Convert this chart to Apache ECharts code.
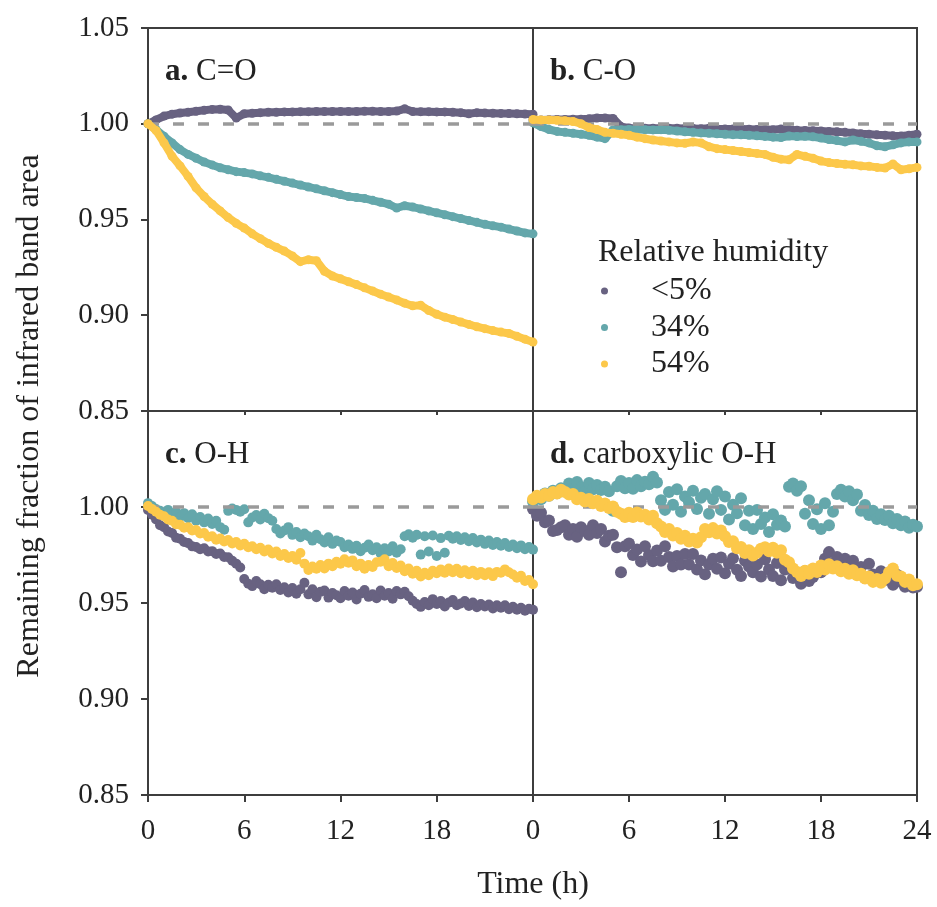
<!DOCTYPE html>
<html>
<head>
<meta charset="utf-8">
<title>Remaining fraction of infrared band area</title>
<script src="https://cdn.jsdelivr.net/npm/echarts@6/dist/echarts.min.js"></script>
<style>
  html, body { margin: 0; padding: 0; background: #fff; }
  #main { width: 937px; height: 907px; }
</style>
</head>
<body>
<div id="main"></div>
<script>
// sampling times (h): half-hourly for the smooth panels, quarter-hourly for the noisy ones
var hours = [0, 0.5, 1, 1.5, 2, 2.5, 3, 3.5, 4, 4.5, 5, 5.5, 6, 6.5, 7, 7.5, 8, 8.5, 9, 9.5,
  10, 10.5, 11, 11.5, 12, 12.5, 13, 13.5, 14, 14.5, 15, 15.5, 16, 16.5, 17, 17.5, 18, 18.5, 19, 19.5,
  20, 20.5, 21, 21.5, 22, 22.5, 23, 23.5, 24];
var hoursFine = [0, 0.25, 0.5, 0.75, 1, 1.25, 1.5, 1.75,
  2, 2.25, 2.5, 2.75, 3, 3.25, 3.5, 3.75,
  4, 4.25, 4.5, 4.75, 5, 5.25, 5.5, 5.75,
  6, 6.25, 6.5, 6.75, 7, 7.25, 7.5, 7.75,
  8, 8.25, 8.5, 8.75, 9, 9.25, 9.5, 9.75,
  10, 10.25, 10.5, 10.75, 11, 11.25, 11.5, 11.75,
  12, 12.25, 12.5, 12.75, 13, 13.25, 13.5, 13.75,
  14, 14.25, 14.5, 14.75, 15, 15.25, 15.5, 15.75,
  16, 16.25, 16.5, 16.75, 17, 17.25, 17.5, 17.75,
  18, 18.25, 18.5, 18.75, 19, 19.25, 19.5, 19.75,
  20, 20.25, 20.5, 20.75, 21, 21.25, 21.5, 21.75,
  22, 22.25, 22.5, 22.75, 23, 23.25, 23.5, 23.75,
  24];

var humidity = ['<5%', '34%', '54%'];
var colors = ['#686281', '#64a7ab', '#fcc84a'];
var panelLabels = [['a.', 'C=O'], ['b.', 'C-O'], ['c.', 'O-H'], ['d.', 'carboxylic O-H']];
var yTicks = [0.85, 0.90, 0.95, 1.00, 1.05];
var xTicks = [0, 6, 12, 18, 24];

// a. C=O
var aDry = [1.000, 1.002, 1.004, 1.005, 1.0056, 1.006, 1.0065, 1.007, 1.0075, 1.0076,
  1.0072, 1.003, 1.0052, 1.0055, 1.0058, 1.006, 1.006, 1.0062, 1.0062, 1.0063,
  1.0063, 1.0064, 1.0064, 1.0064, 1.0064, 1.0064, 1.0064, 1.0065, 1.0065, 1.0064,
  1.0064, 1.0066, 1.0078, 1.0064, 1.0063, 1.0063, 1.0062, 1.0062, 1.006, 1.0058,
  1.0052, 1.0058, 1.0056, 1.0055, 1.0054, 1.0053, 1.0052, 1.0051, 1.005];
var a34 = [1.000, 0.997, 0.9935, 0.990, 0.9865, 0.984, 0.982, 0.980, 0.9785, 0.977,
  0.976, 0.975, 0.9745, 0.9738, 0.9728, 0.972, 0.971, 0.970, 0.969, 0.968,
  0.967, 0.966, 0.965, 0.964, 0.963, 0.962, 0.9615, 0.961, 0.960, 0.959,
  0.958, 0.956, 0.9572, 0.9565, 0.9555, 0.9545, 0.9535, 0.9525, 0.9515, 0.9505,
  0.9495, 0.9485, 0.9475, 0.9467, 0.946, 0.945, 0.944, 0.943, 0.9425];
var a54 = [1.000, 0.9965, 0.990, 0.983, 0.978, 0.9725, 0.9665, 0.962, 0.958, 0.9545,
  0.951, 0.948, 0.9455, 0.9425, 0.940, 0.9375, 0.9355, 0.9335, 0.931, 0.928,
  0.929, 0.9285, 0.923, 0.9205, 0.919, 0.9175, 0.916, 0.9143, 0.9127, 0.911,
  0.9095, 0.908, 0.9063, 0.9049, 0.9052, 0.9025, 0.9005, 0.899, 0.8978, 0.8965,
  0.8952, 0.894, 0.893, 0.892, 0.8912, 0.8905, 0.889, 0.8875, 0.886];

// b. C-O
var bDry = [1.002, 1.002, 1.0021, 1.0022, 1.0022, 1.0023, 1.0024, 1.0026, 1.003, 1.003,
  1.0028, 0.9985, 0.9978, 0.9977, 0.9977, 0.9976, 0.9976, 0.9977, 0.9976, 0.9975,
  0.9975, 0.9974, 0.9976, 0.9974, 0.9973, 0.9972, 0.9972, 0.9971, 0.997, 0.997,
  0.9969, 0.9972, 0.9969, 0.9966, 0.9965, 0.9964, 0.9962, 0.996, 0.9958, 0.9955,
  0.9952, 0.9948, 0.9945, 0.9942, 0.994, 0.9937, 0.9936, 0.994, 0.9945];
var b34 = [1.0005, 0.9985, 0.997, 0.996, 0.9955, 0.995, 0.9945, 0.994, 0.993, 0.9922,
  0.9968, 0.9969, 0.997, 0.997, 0.9969, 0.9968, 0.9969, 0.9966, 0.9962, 0.9958,
  0.9955, 0.9952, 0.995, 0.9948, 0.9945, 0.9943, 0.9942, 0.994, 0.9937, 0.9934,
  0.993, 0.9928, 0.9936, 0.9933, 0.9935, 0.9932, 0.9925, 0.9918, 0.9912, 0.9905,
  0.9915, 0.9908, 0.99, 0.9885, 0.988, 0.989, 0.99, 0.9905, 0.9905];
var b54 = [1.0022, 1.002, 1.002, 1.0018, 1.0016, 1.0012, 1.0, 0.998, 0.997, 0.9955,
  0.995, 0.9945, 0.994, 0.993, 0.9922, 0.9915, 0.991, 0.9905, 0.99, 0.9898,
  0.9905, 0.99, 0.988, 0.987, 0.9865, 0.986, 0.9855, 0.985, 0.9845, 0.984,
  0.9825, 0.9815, 0.9812, 0.984, 0.983, 0.982, 0.9805, 0.9797, 0.9792, 0.9788,
  0.9786, 0.978, 0.9778, 0.9772, 0.9769, 0.979, 0.976, 0.9765, 0.9772];

// c. O-H (quarter-hourly)
var cDry = [0.9985, 0.996, 0.9935, 0.9905, 0.9895, 0.9872, 0.9865, 0.984,
  0.9835, 0.9818, 0.9812, 0.9795, 0.9792, 0.978, 0.9785, 0.9768,
  0.977, 0.9755, 0.9758, 0.974, 0.9738, 0.972, 0.9705, 0.9685,
  0.9625, 0.960, 0.9588, 0.9615, 0.9598, 0.9572, 0.9595, 0.958,
  0.9598, 0.9568, 0.9582, 0.9555, 0.9578, 0.9548, 0.9572, 0.9605,
  0.9545, 0.9572, 0.953, 0.9558, 0.9565, 0.9528, 0.9552, 0.954,
  0.9525, 0.9562, 0.9538, 0.9555, 0.9518, 0.9548, 0.9568, 0.9532,
  0.9545, 0.9525, 0.9565, 0.9538, 0.9552, 0.9522, 0.9562, 0.9545,
  0.9558, 0.9535, 0.9512, 0.9495, 0.948, 0.9505, 0.9488, 0.952,
  0.9495, 0.951, 0.9482, 0.9502, 0.9515, 0.9488, 0.9498, 0.951,
  0.9485, 0.9502, 0.9478, 0.9495, 0.9482, 0.9492, 0.9472, 0.9488,
  0.9475, 0.9488, 0.9468, 0.948, 0.9465, 0.9475, 0.946, 0.947,
  0.9465];
var c34 = [1.002, 1.0005, 0.999, 0.998, 0.9972, 0.9985, 0.9958, 0.9975,
  0.9948, 0.9968, 0.9942, 0.9962, 0.9928, 0.9948, 0.992, 0.994,
  0.9912, 0.9928, 0.9895, 0.9882, 0.998, 0.9992, 0.9985, 0.9975,
  0.9988, 0.992, 0.9945, 0.9958, 0.9935, 0.9965, 0.9942, 0.9928,
  0.9885, 0.9862, 0.9878, 0.9895, 0.9855, 0.987, 0.9842, 0.9862,
  0.9848, 0.9825, 0.9855, 0.9832, 0.9815, 0.9842, 0.9808, 0.9825,
  0.9818, 0.979, 0.9805, 0.9782, 0.9798, 0.977, 0.9788, 0.9805,
  0.9775, 0.979, 0.9758, 0.9785, 0.9768, 0.9795, 0.9762, 0.978,
  0.9848, 0.9858, 0.984, 0.9855, 0.9752, 0.9848, 0.9768, 0.9852,
  0.9745, 0.9838, 0.9762, 0.985, 0.9835, 0.9848, 0.9828, 0.9842,
  0.9822, 0.9838, 0.9815, 0.983, 0.9808, 0.9825, 0.9802, 0.9818,
  0.9798, 0.9812, 0.9792, 0.9805, 0.9785, 0.980, 0.978, 0.9792,
  0.9778];
var c54 = [1.0005, 0.999, 0.9975, 0.996, 0.9952, 0.9935, 0.9928, 0.991,
  0.9908, 0.9892, 0.9895, 0.9878, 0.988, 0.9862, 0.9865, 0.9845,
  0.9848, 0.983, 0.9836, 0.982, 0.9828, 0.981, 0.9818, 0.980,
  0.9808, 0.979, 0.9795, 0.978, 0.9788, 0.9768, 0.9778, 0.9758,
  0.9768, 0.9745, 0.9755, 0.9735, 0.9745, 0.9725, 0.976, 0.9705,
  0.9672, 0.969, 0.9678, 0.9698, 0.968, 0.9705, 0.9692, 0.9715,
  0.9705, 0.9728, 0.971, 0.9722, 0.9692, 0.9705, 0.9678, 0.9698,
  0.9688, 0.9712, 0.9715, 0.9728, 0.9692, 0.9708, 0.9682, 0.9695,
  0.9665, 0.968, 0.9652, 0.9668, 0.9638, 0.9658, 0.9645, 0.9668,
  0.9655, 0.9675, 0.9658, 0.968, 0.966, 0.9678, 0.9655, 0.967,
  0.965, 0.9668, 0.9645, 0.9662, 0.9645, 0.966, 0.964, 0.9662,
  0.9658, 0.9675, 0.966, 0.9648, 0.9632, 0.9642, 0.9615, 0.962,
  0.9598];

// d. carboxylic O-H (quarter-hourly)
var dDry = [0.999, 0.9955, 0.997, 0.992, 0.993, 0.9875, 0.988, 0.9895,
  0.9905, 0.9855, 0.9885, 0.9845, 0.9895, 0.9875, 0.9855, 0.9905,
  0.9865, 0.9885, 0.982, 0.985, 0.9855, 0.979, 0.966, 0.9795,
  0.981, 0.975, 0.9778, 0.9716, 0.9795, 0.975, 0.9717, 0.9773,
  0.972, 0.9795, 0.974, 0.969, 0.9745, 0.970, 0.9755, 0.970,
  0.9755, 0.9674, 0.9722, 0.965, 0.970, 0.973, 0.9678, 0.9737,
  0.9655, 0.9705, 0.9733, 0.9673, 0.964, 0.972, 0.969, 0.966,
  0.970, 0.9638, 0.9728, 0.9675, 0.964, 0.9708, 0.9618, 0.9675,
  0.9695, 0.963, 0.9655, 0.960, 0.9665, 0.9615, 0.9635, 0.966,
  0.966, 0.973, 0.9765, 0.9705, 0.974, 0.967, 0.973, 0.9685,
  0.972, 0.9653, 0.9687, 0.963, 0.9705, 0.9648, 0.9622, 0.9666,
  0.962, 0.9652, 0.9595, 0.9647, 0.961, 0.9584, 0.9607, 0.9581,
  0.9585];
var d34 = [1.003, 1.0055, 1.004, 1.007, 1.0058, 1.0085, 1.0072, 1.0098,
  1.0088, 1.0122, 1.0095, 1.013, 1.0102, 1.0078, 1.0125, 1.0092,
  1.0115, 1.0088, 1.0105, 1.0082, 0.998, 1.0108, 1.0135, 1.0098,
  1.0125, 1.0095, 1.014, 1.0108, 1.0132, 1.0118, 1.0158, 1.0128,
  1.0035, 0.9985, 1.0078, 1.0012, 1.0092, 0.9975, 1.0055, 1.0025,
  1.0085, 0.999, 1.0048, 1.0068, 0.9965, 1.004, 1.0082, 0.9985,
  1.0055, 0.9935, 1.0012, 0.9968, 1.0045, 0.9905, 0.998, 0.9885,
  0.9985, 0.9912, 0.9945, 0.987, 0.9962, 0.9908, 0.993, 0.9898,
  1.0105, 1.0122, 1.0085, 1.0108, 0.9965, 1.0035, 0.9912, 0.9988,
  0.9885, 1.002, 0.9905, 0.9975, 1.0068, 1.009, 1.0055, 1.0082,
  1.0035, 1.0065, 0.998, 1.001, 0.9958, 0.998, 0.9938, 0.9962,
  0.9932, 0.9955, 0.9915, 0.9938, 0.9905, 0.9925, 0.9892, 0.9908,
  0.9898];
var d54 = [1.004, 1.0058, 1.005, 1.0068, 1.0058, 1.0078, 1.007, 1.009,
  1.0078, 1.0065, 1.0068, 1.004, 1.0048, 1.0028, 1.0042, 1.002,
  1.0032, 1.0005, 1.0018, 0.9995, 1.0002, 0.9975, 0.9965, 0.9948,
  0.997, 0.9948, 0.9972, 0.995, 0.996, 0.9935, 0.9955, 0.9915,
  0.9898, 0.987, 0.9885, 0.9852, 0.9865, 0.9835, 0.985, 0.982,
  0.9835, 0.9815, 0.9842, 0.9885, 0.9868, 0.989, 0.9862, 0.9878,
  0.9848, 0.9818, 0.9822, 0.9785, 0.9792, 0.976, 0.9775, 0.9748,
  0.9762, 0.9782, 0.979, 0.977, 0.9788, 0.9762, 0.9775, 0.9725,
  0.9712, 0.968, 0.9662, 0.964, 0.9668, 0.9652, 0.968, 0.9662,
  0.9695, 0.9675, 0.9702, 0.968, 0.9692, 0.9665, 0.9678, 0.9652,
  0.967, 0.9645, 0.9652, 0.9628, 0.9638, 0.961, 0.9625, 0.9605,
  0.9628, 0.966, 0.968, 0.9642, 0.9638, 0.961, 0.9622, 0.9592,
  0.9598];

var panels = [[aDry, a34, a54], [bDry, b34, b54], [cDry, c34, c54], [dDry, d34, d54]];
var panelHours = [hours, hours, hoursFine, hoursFine];
var dotSizes = [9, 9, 10, 12];

var font = '"Liberation Serif", "DejaVu Serif", serif';
var ink = '#222';
var frame = '#3d3d3d';

var grids = [
  { left: 148, top: 28, width: 385, height: 383 },
  { left: 533, top: 28, width: 384, height: 383 },
  { left: 148, top: 411, width: 385, height: 384 },
  { left: 533, top: 411, width: 384, height: 384 }
];

var xAxes = [], yAxes = [], series = [], titles = [];

grids.forEach(function (g, p) {
  g.show = true;
  g.borderColor = frame;
  g.borderWidth = 2;
  var bottomRow = p >= 2;
  var leftCol = p % 2 === 0;

  xAxes.push({
    gridIndex: p, type: 'value', min: xTicks[0], max: xTicks[xTicks.length - 1], interval: 6,
    axisLine: { show: true, lineStyle: { color: frame, width: 2 } },
    axisTick: { show: true, length: bottomRow ? 7 : 4, lineStyle: { color: frame, width: 2 } },
    axisLabel: {
      show: bottomRow, margin: 22, color: ink, fontFamily: font, fontSize: 29,
      showMaxLabel: p === 3
    },
    splitLine: { show: false }
  });

  yAxes.push({
    gridIndex: p, type: 'value', min: yTicks[0], max: yTicks[yTicks.length - 1], interval: 0.05,
    axisLine: { show: true, lineStyle: { color: frame, width: 2 } },
    axisTick: { show: leftCol, length: 7, lineStyle: { color: frame, width: 2 } },
    axisLabel: {
      show: leftCol, margin: 19, color: ink, fontFamily: font, fontSize: 29,
      showMaxLabel: p === 0,
      formatter: function (v) { return v.toFixed(2); }
    },
    splitLine: { show: false }
  });

  titles.push({
    text: '{b|' + panelLabels[p][0] + '} ' + panelLabels[p][1],
    left: g.left + 17, top: g.top + 28, padding: 0,
    textStyle: {
      fontFamily: font, fontSize: 31, fontWeight: 'normal', color: ink,
      rich: { b: { fontFamily: font, fontSize: 31, fontWeight: 'bold', color: ink } }
    }
  });

  panels[p].forEach(function (vals, h) {
    var s = {
      name: humidity[h],
      type: bottomRow ? 'scatter' : 'line',
      xAxisIndex: p, yAxisIndex: p,
      data: panelHours[p].map(function (t, i) { return [t, vals[i]]; }),
      symbol: 'circle',
      symbolSize: dotSizes[p],
      showSymbol: true,
      itemStyle: { color: colors[h], opacity: 1 },
      lineStyle: { color: colors[h], width: 8 },
      animation: false,
      z: 3 + h
    };
    if (h === 0) {
      // dashed reference line at 1.00
      s.markLine = {
        silent: true, symbol: 'none', label: { show: false },
        lineStyle: { color: '#9a9a9a', type: [11, 14], width: 3.5 },
        data: [{ yAxis: 1 }]
      };
    }
    series.push(s);
  });
});

var myChart = echarts.init(document.getElementById('main'));
var option = {
  backgroundColor: '#fff',
  animation: false,
  title: titles,
  grid: grids,
  xAxis: xAxes,
  yAxis: yAxes,
  legend: {
    data: humidity,
    orient: 'vertical',
    left: 601, top: 275, padding: 0,
    icon: 'circle',
    itemWidth: 7, itemHeight: 7, itemGap: 4.5,
    formatter: function (name) { return '{p| }{t|' + name + '}'; },
    textStyle: {
      color: ink, fontFamily: font, fontSize: 32,
      rich: {
        p: { width: 38 },
        t: { fontFamily: font, fontSize: 32, color: ink, lineHeight: 32 }
      }
    }
  },
  graphic: [
    {
      type: 'text', x: 598, y: 253,
      style: {
        text: 'Relative humidity', font: '32px ' + font, fill: ink,
        textAlign: 'left', textVerticalAlign: 'middle'
      }
    },
    {
      type: 'text', x: 30, y: 416, rotation: Math.PI / 2,
      style: {
        text: 'Remaining fraction of infrared band area', font: '32px ' + font, fill: ink,
        textAlign: 'center', textVerticalAlign: 'middle'
      }
    },
    {
      type: 'text', x: 533, y: 885,
      style: {
        text: 'Time (h)', font: '32px ' + font, fill: ink,
        textAlign: 'center', textVerticalAlign: 'middle'
      }
    }
  ],
  series: series
};

myChart.setOption(option);
</script>
</body>
</html>
